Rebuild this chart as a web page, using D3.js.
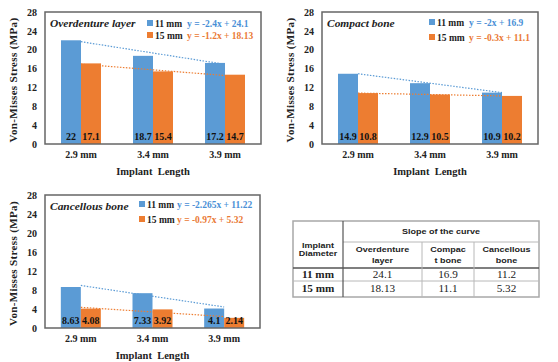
<!DOCTYPE html>
<html>
<head>
<meta charset="utf-8">
<script src="https://cdn.jsdelivr.net/npm/d3@7"></script>
<style>
	html, body { margin: 0; padding: 0; background: #fff; }
	svg { display: block; }
</style>
</head>
<body>
<div id="chart"></div>
<script>
//	data
const lengths = ['2.9 mm', '3.4 mm', '3.9 mm'];
const diameters = ['11 mm', '15 mm'];
const yTicks = [0, 4, 8, 12, 16, 20, 24, 28];

const overdenture11 = [22, 18.7, 17.2];
const overdenture15 = [17.1, 15.4, 14.7];
const overdentureTrend = [[-2.4, 24.1], [-1.2, 18.13]];
const overdentureEq = ['y = -2.4x + 24.1', 'y = -1.2x + 18.13'];

const compact11 = [14.9, 12.9, 10.9];
const compact15 = [10.8, 10.5, 10.2];
const compactTrend = [[-2, 16.9], [-0.3, 11.1]];
const compactEq = ['y = -2x + 16.9', 'y = -0.3x + 11.1'];

const cancellous11 = [8.63, 7.33, 4.1];
const cancellous15 = [4.08, 3.92, 2.14];
const cancellousTrend = [[-2.265, 11.22], [-0.97, 5.32]];
const cancellousEq = ['y = -2.265x + 11.22', 'y = -0.97x + 5.32'];

const tableCols = ['Overdenture|layer', 'Compac|t bone', 'Cancellous|bone'];
const slope11 = ['24.1', '16.9', '11.2'];
const slope15 = ['18.13', '11.1', '5.32'];

const colors = ['#5b9bd5', '#ed7d31'];
const eqColors = ['#4a8fd6', '#ea7a35'];
const serif = "'Liberation Serif', 'Times New Roman', serif";
const sans = "'Liberation Sans', Arial, sans-serif";

const svg = d3.select('#chart')
	.append('svg')
	.attr('width', 558)
	.attr('height', 362);

//	one bar chart panel
const drawPanel = (p) => {
	const g = svg.append('g');
	const x = d3.scaleBand().domain(lengths).range([p.left, p.right]);
	const xs = d3.scaleBand().domain(diameters).range([-20, 20]);
	const y = d3.scaleLinear().domain([0, 28]).range([p.bottom, p.top]);
	const rows = lengths.map((l, i) => ({ l, v: [p.v11[i], p.v15[i]] }));

	//	bars
	const grp = g.selectAll('g.grp')
		.data(rows)
		.enter()
		.append('g')
		.attr('transform', d => 'translate(' + (x(d.l) + x.bandwidth() / 2) + ',0)');
	grp.selectAll('rect')
		.data(d => d.v.map((v, k) => ({ v, k })))
		.enter()
		.append('rect')
		.attr('x', d => xs(diameters[d.k]))
		.attr('width', xs.bandwidth())
		.attr('y', d => y(d.v))
		.attr('height', d => y(0) - y(d.v))
		.style('fill', d => colors[d.k]);
	//	value labels, sitting at the foot of each bar
	grp.selectAll('text')
		.data(d => d.v.map((v, k) => ({ v, k })))
		.enter()
		.append('text')
		.attr('x', d => xs(diameters[d.k]) + xs.bandwidth() / 2)
		.attr('y', p.bottom - 4.5)
		.attr('text-anchor', 'middle')
		.style('font-family', serif)
		.style('font-size', '10px')
		.style('font-weight', 'bold')
		.style('fill', '#111')
		.text(d => d.v);

	//	trend lines, excel style: x = 1..3 at category centres
	p.trend.forEach((t, k) => {
		const pts = [1, 3].map(n => [x(lengths[n - 1]) + x.bandwidth() / 2, y(t[0] * n + t[1])]);
		g.append('line')
			.attr('x1', pts[0][0]).attr('y1', pts[0][1])
			.attr('x2', pts[1][0]).attr('y2', pts[1][1])
			.attr('stroke', colors[k])
			.style('stroke-width', 1.2)
			.style('stroke-dasharray', '1.5,1.5');
	});

	//	frame
	g.append('rect')
		.attr('x', p.left).attr('y', p.top)
		.attr('width', p.right - p.left).attr('height', p.bottom - p.top)
		.style('fill', 'none')
		.attr('stroke', '#666')
		.style('stroke-width', 1.5);

	//	y axis
	const ya = g.append('g')
		.attr('transform', 'translate(' + p.left + ',0)')
		.call(d3.axisLeft(y).tickValues(yTicks).tickSize(0).tickPadding(8));
	ya.select('.domain').remove();
	ya.selectAll('text')
		.style('font-family', serif)
		.style('font-size', '10px')
		.style('font-weight', 'bold')
		.style('fill', '#222');

	//	x axis
	const xa = g.append('g')
		.attr('transform', 'translate(0,' + p.bottom + ')')
		.call(d3.axisBottom(x).tickSize(0).tickPadding(7));
	xa.select('.domain').remove();
	xa.selectAll('text')
		.style('font-family', serif)
		.style('font-size', '10px')
		.style('font-weight', 'bold')
		.style('fill', '#222');

	g.append('text')
		.attr('x', (p.left + p.right) / 2)
		.attr('y', p.bottom + 31)
		.attr('text-anchor', 'middle')
		.style('font-family', serif)
		.style('font-size', '10.5px')
		.style('font-weight', 'bold')
		.style('fill', '#222')
		.style('white-space', 'pre')
		.text('Implant  Length');

	g.append('text')
		.attr('transform', 'translate(' + (p.left - 28) + ',' + ((p.top + p.bottom) / 2 + 2) + ') rotate(-90)')
		.attr('text-anchor', 'middle')
		.style('font-family', serif)
		.style('font-size', '11px')
		.style('letter-spacing', '0.35px')
		.style('font-weight', 'bold')
		.style('fill', '#222')
		.text('Von-Misses Stress (MPa)');

	//	title + legend
	g.append('text')
		.attr('transform', 'translate(' + (p.left + 5) + ',' + (p.top + 14.5) + ') scale(1.04,1)')
		.style('font-family', serif)
		.style('font-size', '11px')
		.style('font-weight', 'bold')
		.style('font-style', 'italic')
		.style('fill', '#222')
		.text(p.title);
	diameters.forEach((d, k) => {
		const ly = p.top + p.legY[k];
		g.append('rect')
			.attr('x', p.legX).attr('y', ly - 3)
			.attr('width', 6).attr('height', 6)
			.style('fill', colors[k]);
		g.append('text')
			.attr('x', p.legX + 8).attr('y', ly + 3.5)
			.style('font-family', serif)
			.style('font-size', '9.5px')
			.style('font-weight', 'bold')
			.style('fill', '#222')
			.text(d);
		g.append('text')
			.attr('x', p.eqX).attr('y', ly + 3.5)
			.style('font-family', serif)
			.style('font-size', '9.5px')
			.style('font-weight', 'bold')
			.style('fill', eqColors[k])
			.text(p.eq[k]);
	});
};

drawPanel({ left: 45, right: 261, top: 12, bottom: 144, title: 'Overdenture layer',
	v11: overdenture11, v15: overdenture15, trend: overdentureTrend, eq: overdentureEq,
	legX: 147, eqX: 187, legY: [11, 23] });
drawPanel({ left: 322, right: 538, top: 12, bottom: 144, title: 'Compact bone',
	v11: compact11, v15: compact15, trend: compactTrend, eq: compactEq,
	legX: 429, eqX: 469, legY: [10, 25] });
drawPanel({ left: 45, right: 260, top: 195, bottom: 328, title: 'Cancellous bone',
	v11: cancellous11, v15: cancellous15, trend: cancellousTrend, eq: cancellousEq,
	legX: 139, eqX: 177, legY: [9, 24] });

//	slope table
const colX = [293, 343, 422, 474, 539];
const rowY = [221, 242, 268, 281, 297];
const tb = svg.append('g');

tb.append('rect')
	.attr('x', colX[0]).attr('y', rowY[0])
	.attr('width', colX[4] - colX[0]).attr('height', rowY[4] - rowY[0])
	.style('fill', 'none').attr('stroke', '#a8a8a8').style('stroke-width', 1.5);
//	inner lines
tb.append('line').attr('x1', colX[1]).attr('x2', colX[4]).attr('y1', rowY[1]).attr('y2', rowY[1])
	.attr('stroke', '#b8b8b8');
tb.append('line').attr('x1', colX[0]).attr('x2', colX[4]).attr('y1', rowY[2]).attr('y2', rowY[2])
	.attr('stroke', '#555').style('stroke-width', 1.6);
tb.append('line').attr('x1', colX[0]).attr('x2', colX[4]).attr('y1', rowY[3]).attr('y2', rowY[3])
	.attr('stroke', '#b8b8b8');
tb.append('line').attr('x1', colX[1]).attr('x2', colX[1]).attr('y1', rowY[0]).attr('y2', rowY[4])
	.attr('stroke', '#555').style('stroke-width', 1.2);
[2, 3].forEach(c => {
	tb.append('line').attr('x1', colX[c]).attr('x2', colX[c]).attr('y1', rowY[1]).attr('y2', rowY[4])
		.attr('stroke', '#b8b8b8');
});

//	the source table is a bit stretched sideways, hence the x scale
const cellText = (cx, cy, txt, font, weight, size, sx) => {
	tb.append('text')
		.attr('transform', 'translate(' + cx + ',' + cy + ') scale(' + sx + ',1)')
		.attr('text-anchor', 'middle')
		.attr('dominant-baseline', 'central')
		.style('font-family', font)
		.style('font-weight', weight)
		.style('font-size', size)
		.style('fill', '#222')
		.text(txt);
};
const mid = i => (colX[i] + colX[i + 1]) / 2;

cellText(mid(0), 245.5, 'Implant', sans, 'bold', '7.5px', 1.2);
cellText(mid(0), 254, 'Diameter', sans, 'bold', '7.5px', 1.2);
cellText((colX[1] + colX[4]) / 2, 232, 'Slope of the curve', sans, 'bold', '7.5px', 1.2);
tableCols.forEach((c, i) => {
	const parts = c.split('|');
	cellText(mid(i + 1), 250, parts[0], sans, 'bold', '7.5px', 1.2);
	cellText(mid(i + 1), 261, parts[1], sans, 'bold', '7.5px', 1.2);
});
cellText(mid(0), (rowY[2] + rowY[3]) / 2, diameters[0], serif, 'bold', '10px', 1.12);
cellText(mid(0), (rowY[3] + rowY[4]) / 2, diameters[1], serif, 'bold', '10px', 1.12);
slope11.forEach((v, i) => cellText(mid(i + 1), (rowY[2] + rowY[3]) / 2, v, serif, 'normal', '10px', 1.12));
slope15.forEach((v, i) => cellText(mid(i + 1), (rowY[3] + rowY[4]) / 2, v, serif, 'normal', '10px', 1.12));
</script>
</body>
</html>
